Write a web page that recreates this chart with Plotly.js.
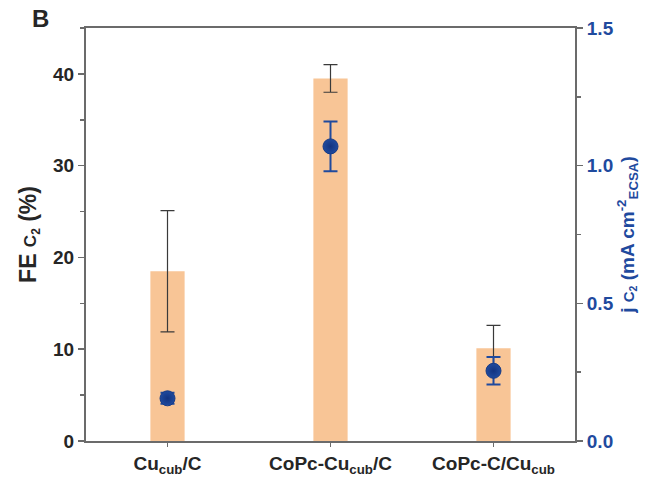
<!DOCTYPE html>
<html><head><meta charset="utf-8">
<script src="https://cdn.plot.ly/plotly-3.0.1.min.js"></script>
<style>body{margin:0;background:#fff}#c{width:657px;height:477px}</style>
</head><body><div id="c"></div>
<script>
const categories = ["Cu<sub>cub</sub>/C", "CoPc-Cu<sub>cub</sub>/C", "CoPc-C/Cu<sub>cub</sub>"];
const feValues = [18.5, 39.5, 10.1];
const feErrors = [6.6, 1.5, 2.5];
const jValues = [0.155, 1.07, 0.255];
const jErrors = [0.02, 0.09, 0.05];
const xIdx = [0, 1, 2];

const blue = "#1f4a9e";
const axisGray = "#6b6b6b";
const txt = "#262626";
const fam = "Liberation Sans, Arial, sans-serif";

const traces = [
  {type: "bar", x: xIdx, y: feValues, width: 0.21,
   marker: {color: "#f8c596", line: {width: 0}},
   error_y: {type: "data", array: feErrors, visible: true, color: "#3a3a3a", thickness: 1.2, width: 7},
   yaxis: "y", hoverinfo: "skip"},
  {type: "scatter", mode: "markers", x: xIdx, y: jValues, yaxis: "y2",
   marker: {color: blue, size: 15, line: {color: "#163a85", width: 1},
            gradient: {type: "radial", color: "#123380"}},
   error_y: {type: "data", array: jErrors, visible: true, color: blue, thickness: 2, width: 7}}
];

const layout = {
  width: 657, height: 477,
  margin: {l: 86, r: 82, t: 28, b: 36},
  paper_bgcolor: "#fff", plot_bgcolor: "#fff",
  showlegend: false,
  font: {family: fam, color: txt},
  xaxis: {
    range: [-0.5, 2.5], tickvals: xIdx, ticktext: categories,
    showline: true, linecolor: axisGray, linewidth: 2, mirror: true,
    ticks: "outside", ticklen: 4, tickcolor: axisGray, tickwidth: 1.5,
    tickfont: {size: 19, color: txt, family: fam, weight: "bold"},
    showgrid: false, zeroline: false
  },
  yaxis: {
    range: [0, 45], tickvals: [0, 10, 20, 30, 40],
    showline: true, linecolor: axisGray, linewidth: 2,
    ticks: "outside", ticklen: 6, tickcolor: axisGray, tickwidth: 1.5,
    minor: {dtick: 5, tick0: 0, ticks: "outside", ticklen: 4, tickcolor: axisGray, tickwidth: 1.5},
    tickfont: {size: 19, color: txt, weight: "bold"},
    showgrid: false, zeroline: false,
    title: {text: "FE <span style='font-size:17px'>C<sub>2</sub></span> (%)", font: {size: 23, color: txt, weight: "bold"}, standoff: 10}
  },
  yaxis2: {
    range: [0, 1.5], tickvals: [0, 0.5, 1.0, 1.5], ticktext: ["0.0", "0.5", "1.0", "1.5"],
    overlaying: "y", side: "right",
    showline: true, linecolor: axisGray, linewidth: 2,
    ticks: "outside", ticklen: 6, tickcolor: axisGray, tickwidth: 1.5,
    minor: {dtick: 0.25, tick0: 0, ticks: "outside", ticklen: 4, tickcolor: axisGray, tickwidth: 1.5},
    tickfont: {size: 19, color: blue, weight: "bold"},
    showgrid: false, zeroline: false,
    title: {text: "j <span style='font-size:15px'>C<sub>2</sub></span> (mA cm<sup>-2</sup><sub>ECSA</sub>)", font: {size: 19, color: blue, weight: "bold"}, standoff: 6}
  },
  annotations: [
    {text: "<b>B</b>", xref: "paper", yref: "paper", x: -0.115, y: 1.06, xanchor: "left", yanchor: "top",
     showarrow: false, font: {size: 24, color: txt, family: fam}}
  ]
};

Plotly.newPlot("c", traces, layout, {displayModeBar: false, staticPlot: true});
</script>
</body></html>
